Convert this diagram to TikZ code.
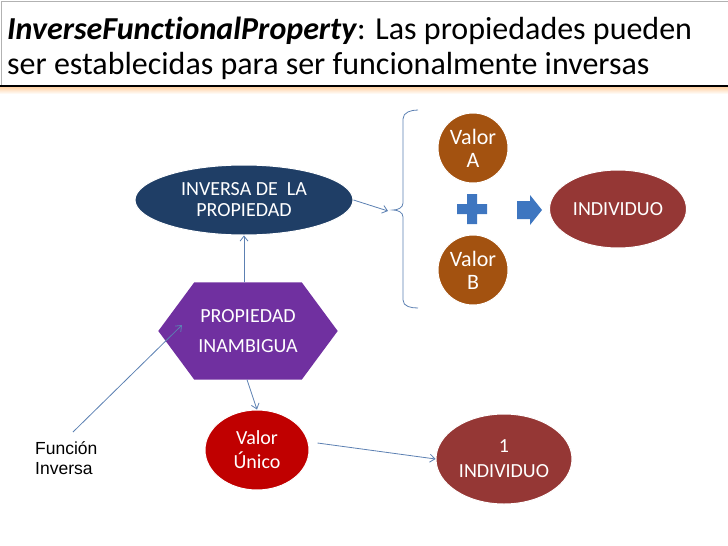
\documentclass[tikz,border=0pt]{standalone}
\usepackage{fontspec}
\setmainfont{Carlito}[Ligatures=NoCommon]
\newfontfamily\arialfont{Liberation Sans}
\usetikzlibrary{positioning, calc, arrows.meta, shapes.geometric, backgrounds}

\definecolor{navyprop}{RGB}{31,62,102}
\definecolor{valorbrown}{RGB}{163,82,16}
\definecolor{indivred}{RGB}{149,55,53}
\definecolor{hexpurple}{RGB}{112,48,160}
\definecolor{unicored}{RGB}{192,0,0}
\definecolor{linkblue}{RGB}{92,128,178}
\definecolor{plusblue}{RGB}{62,118,192}

\begin{document}
\begin{tikzpicture}[x=1pt, y=-1pt, >={Straight Barb[length=5pt,width=8pt]},
    nodetext/.style={text=white, inner sep=0pt, align=center},
    oval/.style={ellipse, nodetext, draw=white, line width=1pt},
    valor/.style={circle, nodetext, fill=valorbrown, draw=white, line width=1pt,
        minimum size=70pt, font=\fontsize{22}{23}\selectfont},
    link/.style={->, draw=linkblue, line width=0.8pt}]
    \useasboundingbox (0,0) rectangle (728,546);

    % Title box
    \shade[top color=orange!35, bottom color=white] (0,87) rectangle (728,94);
    \draw[gray!60] (1,1) rectangle (728,86);
    \draw[black, line width=2pt] (0,86) -- (728,86);
    \node[anchor=base west, inner sep=0pt, font=\fontsize{32}{34}\selectfont] (title1) at (7,39)
        {\textbf{\textit{InverseFunctionalProperty}}: Las propiedades pueden};
    \node[anchor=base west, inner sep=0pt, font=\fontsize{32}{34}\selectfont] (title2) at (7,74)
        {ser establecidas para ser funcionalmente inversas};

    % Main nodes
    \node[oval, fill=navyprop, minimum width=218pt, minimum height=70pt,
        font=\fontsize{20}{21}\selectfont] (inversa) at (244,200) {INVERSA DE\ \ LA\\PROPIEDAD};
    \node[valor] (valA) at (473,148) {Valor\\A};
    \node[valor] (valB) at (473,270) {Valor\\B};
    \node[oval, fill=indivred, minimum width=137pt, minimum height=78pt,
        font=\fontsize{20}{24}\selectfont] (indiv) at (618,209) {INDIVIDUO};
    \node[nodetext, minimum width=179pt, minimum height=97pt,
        font=\fontsize{20}{30}\selectfont] (hexa) at (248,331) {PROPIEDAD\\INAMBIGUA};
    \node[oval, fill=unicored, minimum width=104pt, minimum height=80pt,
        font=\fontsize{20}{24}\selectfont] (unico) at (257,450) {Valor\\Único};
    \node[oval, fill=indivred, minimum width=136pt, minimum height=90pt,
        font=\fontsize{20}{25}\selectfont] (indiv1) at (504,459) {1\\INDIVIDUO};
    \node[anchor=north west, inner sep=0pt, align=left,
        font=\arialfont\fontsize{17.5}{20}\selectfont] (funcion) at (35,441) {Función\\Inversa};

    % Hexagon behind its text
    \begin{scope}[on background layer]
        \fill[hexpurple] (hexa.west) -- ([xshift=36pt]hexa.north west) -- ([xshift=-36pt]hexa.north east)
            -- (hexa.east) -- ([xshift=-36pt]hexa.south east) -- ([xshift=36pt]hexa.south west) -- cycle;
    \end{scope}

    % Plus sign and block arrow
    \fill[plusblue, shift={(472,209)}] (-5,-15) -- (5,-15) -- (5,-5) -- (15,-5) -- (15,5) -- (5,5)
        -- (5,15) -- (-5,15) -- (-5,5) -- (-15,5) -- (-15,-5) -- (-5,-5) -- cycle;
    \fill[plusblue] (517,201) -- (530,201) -- (530,195) -- (542,210) -- (530,225) -- (530,219)
        -- (517,219) -- cycle;

    % Brace round the two values
    \coordinate (brtip) at (393,210);
    \coordinate (brin) at (388,211);
    \draw[linkblue, line width=0.8pt] (418,110) to[out=180,in=90] (403,119) -- (403,203)
        to[out=-90,in=0] (brtip) to[out=0,in=90] (403,217) -- (403,300) to[out=-90,in=180] (418,308);

    % Connectors
    \coordinate (fstart) at (73,432);
    \coordinate (fend) at (182,325);
    \draw[link] (inversa.east) -- (brin);
    \draw[link] (hexa.north -| inversa.south) -- (inversa.south);
    \draw[link] ([xshift=-1pt]hexa.south) -- (unico.north);
    \draw[link] ($(unico.east)+(8,-7)$) -- (indiv1.west);
    \draw[link] (fstart) -- (fend);
\end{tikzpicture}
\end{document}
